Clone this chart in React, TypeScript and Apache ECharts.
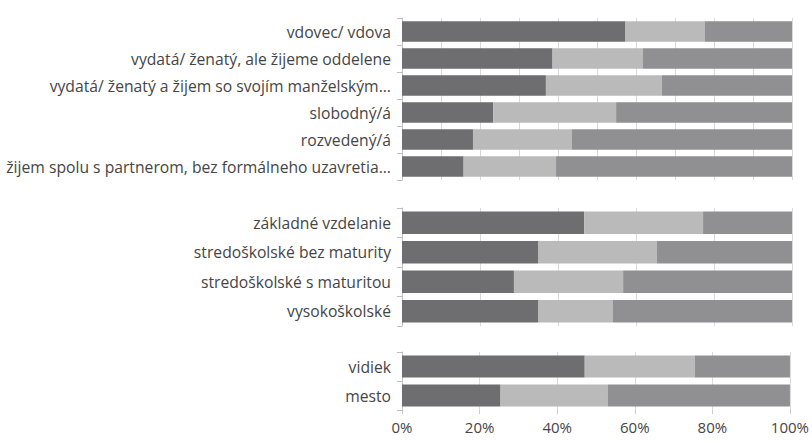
import React, { useEffect, useRef } from "react";
import * as echarts from "echarts";

const maritalCategories = [
  "vdovec/ vdova",
  "vydatá/ ženatý, ale žijeme oddelene",
  "vydatá/ ženatý a žijem so svojím manželským...",
  "slobodný/á",
  "rozvedený/á",
  "žijem spolu s partnerom, bez formálneho uzavretia...",
];
const maritalDark = [57.3, 38.6, 36.9, 23.4, 18.2, 15.8];
const maritalLight = [20.3, 23.2, 29.7, 31.5, 25.3, 23.7];
const maritalMedium = [22.4, 38.2, 33.4, 45.1, 56.5, 60.5];

const educationCategories = [
  "základné vzdelanie",
  "stredoškolské bez maturity",
  "stredoškolské s maturitou",
  "vysokoškolské",
];
const educationDark = [46.7, 35.0, 28.7, 35.0];
const educationLight = [30.5, 30.3, 28.0, 19.1];
const educationMedium = [22.8, 34.7, 43.3, 45.9];

const residenceCategories = ["vidiek", "mesto"];
const residenceDark = [47.1, 25.4];
const residenceLight = [28.4, 27.7];
const residenceMedium = [24.5, 46.9];

const xTickLabels = ["0%", "20%", "40%", "60%", "80%", "100%"];

const seriesNames = ["séria 1", "séria 2", "séria 3"];
const colors = ["#6e6e70", "#bababb", "#909093"];

export default function App() {
  const ref = useRef<HTMLDivElement>(null);
  useEffect(() => {
    document.body.style.margin = "0";
    if (!ref.current) return;
    const chart = echarts.init(ref.current, undefined, { renderer: "svg" });
    const font = "Open Sans";
    const grids = [
      { left: 402, right: 20, top: 18, height: 162 },
      { left: 402, right: 20, top: 208, height: 118 },
      { left: 402, right: 20, top: 352, height: 58 },
    ];
    const cats = [maritalCategories, educationCategories, residenceCategories];
    const data = [
      [maritalDark, maritalLight, maritalMedium],
      [educationDark, educationLight, educationMedium],
      [residenceDark, residenceLight, residenceMedium],
    ];
    const intervals = [10, 20, 20];
    const xAxis = grids.map((_, i) => ({
      type: "value",
      gridIndex: i,
      min: 0,
      max: 100,
      interval: intervals[i],
      axisLine: { show: false },
      axisTick: {
        show: i === 2,
        length: 4,
        interval: 0,
        lineStyle: { color: "#c8c8c8" },
      },
      splitLine: { show: true, lineStyle: { color: "#d9d9d9", width: 1 } },
      axisLabel: {
        show: i === 2,
        margin: 9,
        color: "#454545",
        fontSize: 15,
        fontFamily: font,
        formatter: (v: number) => xTickLabels[Math.round(v / 20)] ?? "",
      },
    }));
    const yAxis = grids.map((_, i) => ({
      type: "category",
      gridIndex: i,
      inverse: true,
      data: cats[i],
      axisLine: { show: true, lineStyle: { color: "#bfbfbf" } },
      axisTick: { show: true, length: 5, lineStyle: { color: "#bfbfbf" } },
      axisLabel: {
        margin: 11,
        color: "#454545",
        fontSize: 15.7,
        fontFamily: font,
      },
    }));
    const series: any[] = [];
    data.forEach((group, gi) => {
      group.forEach((vals, si) => {
        series.push({
          type: "bar",
          name: seriesNames[si],
          stack: "s" + gi,
          xAxisIndex: gi,
          yAxisIndex: gi,
          data: vals,
          barCategoryGap: "24%",
          itemStyle: { color: colors[si] },
        });
      });
    });
    chart.setOption({
      animation: false,
      backgroundColor: "#ffffff",
      grid: grids,
      xAxis,
      yAxis,
      series,
    });
    return () => chart.dispose();
  }, []);
  return <div ref={ref} style={{ width: 812, height: 443 }} />;
}
